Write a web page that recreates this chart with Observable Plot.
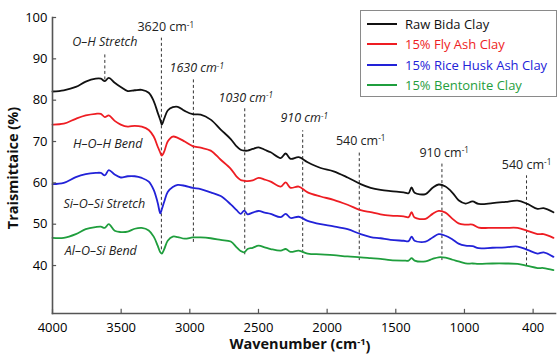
<!DOCTYPE html>
<html><head><meta charset="utf-8">
<script src="https://cdn.jsdelivr.net/npm/d3@7"></script>
<script src="https://cdn.jsdelivr.net/npm/@observablehq/plot@0.6"></script>
<style>
body{margin:0;background:#fff;}
#wrap{position:relative;width:558px;height:356px;font-family:"Open Sans",sans-serif;}
#legend{position:absolute;left:360px;top:10px;width:197px;height:87px;border:1px solid #8a8a8a;box-sizing:border-box;background:#fff;}
.item{position:absolute;left:6px;height:20px;display:flex;align-items:center;font-size:13px;white-space:nowrap;}
.item .sw{width:30px;height:2px;margin-right:8px;}
</style></head><body><div id="wrap"><div id="legend"></div></div>
<script>
const wavenumbers = [4000,3918,3830,3758,3685,3648,3619,3590,3547,3503,3452,3401,3350,3299,3263,3234,3215,3204,3186,3161,3124,3088,3037,2979,2921,2848,2775,2702,2659,2630,2604,2579,2542,2499,2455,2411,2338,2302,2266,2207,2142,2047,1953,1851,1756,1683,1611,1538,1443,1407,1385,1363,1283,1232,1188,1138,1087,1043,992,941,897,796,701,613,541,468,424,352];
const rawBida = [82.1,82.4,83.2,84.5,85.2,85.2,84.6,85.4,84.2,83.2,82.2,82.4,82.5,81.8,79.8,77.0,75.2,74.1,75.6,77.5,78.3,78.4,77.4,76.6,76.5,75.3,72.9,70.6,68.8,68.0,67.8,67.8,68.2,68.6,68.0,67.4,66.0,67.1,65.8,66.2,65.0,63.6,62.8,61.3,59.7,58.8,58.3,58.0,57.7,57.5,58.9,57.6,57.3,58.8,59.6,59.1,57.6,55.8,55.0,55.5,54.9,55.1,55.4,55.7,54.9,53.7,53.9,52.9];
const flyAsh = [74.1,74.3,75.5,76.3,76.7,76.7,75.9,76.3,75.0,74.1,73.6,73.8,73.6,72.8,71.2,68.8,67.3,66.6,67.6,70.0,71.2,70.9,70.0,68.9,68.5,67.8,65.6,63.4,61.5,60.7,60.5,60.4,60.6,61.2,60.8,60.3,59.1,60.1,58.8,59.1,57.7,56.7,55.9,54.7,53.4,52.9,52.4,52.1,51.9,51.7,52.9,51.6,51.3,52.5,53.2,52.8,51.3,50.2,49.9,49.9,49.2,49.1,49.1,49.1,48.4,47.6,47.6,46.7];
const riceHusk = [59.7,60.0,61.4,62.1,62.4,62.4,61.8,63.1,62.0,61.3,61.6,61.6,61.2,60.3,58.3,55.2,52.6,53.6,55.5,57.8,59.0,59.5,59.3,58.8,58.5,57.7,56.8,54.8,53.4,52.5,53.3,52.4,52.8,53.2,52.8,52.5,51.7,52.5,51.5,51.8,50.8,50.0,49.5,48.8,47.6,46.9,46.6,46.2,46.0,45.9,47.0,46.0,45.8,46.8,47.6,47.2,46.3,45.3,44.8,44.7,44.2,44.3,44.4,44.6,43.8,42.9,43.2,42.1];
const bentonite = [46.7,46.7,47.6,48.8,49.3,49.4,49.1,50.0,48.4,48.1,48.2,48.9,49.1,48.5,47.0,44.8,43.2,42.9,44.0,46.0,47.0,46.9,46.5,46.8,46.8,46.6,46.2,45.8,44.4,43.5,43.2,44.0,44.3,44.8,44.4,44.0,43.6,44.0,43.3,43.6,42.9,42.7,42.5,42.2,42.0,41.8,41.6,41.3,41.2,41.2,41.8,41.2,41.0,41.6,42.0,41.9,41.4,41.0,40.5,40.5,40.4,40.5,40.5,40.4,39.9,39.4,39.4,38.9];

const seriesNames = ["Raw Bida Clay","15% Fly Ash Clay","15% Rice Husk Ash Clay","15% Bentonite Clay"];
const seriesColors = ["#111111","#ee1d23","#2222d8","#1f9e3d"];

const xDomain = [4000, 337];
const yDomain = [28.4, 100];
const xTicks = [4000,3500,3000,2500,2000,1500,1000,500];
const xTickLabels = ["4000","3500","3000","2500","2000","1500","1000","400"];
const yTicks = [40,50,60,70,80,90,100];

// dashed peak markers
const peakX = [3619,3207,2974,2600,2178,1766,1164,548];
const peakTop = [91.5,95.0,85.2,78.2,72.6,67.8,64.6,61.7];
const peakBottom = [84.9,43.8,45.6,42.6,41.7,41.2,41.2,39.8];

// annotation texts
const noteText = ["O–H Stretch","H–O–H Bend","Si–O–Si Stretch","Al–O–Si Bend","3620 cm-1","1630 cm-1","1030 cm-1","910 cm-1","540 cm-1","910 cm-1","540 cm-1"];
const noteX = [3619,3598,3623,3648,3175,2950,2593,2167,1756,1148,548];
const noteY = [94.0,69.3,54.9,43.6,97.6,87.7,80.5,75.6,70.2,67.3,64.4];
const noteItalic = [true,true,true,true,false,true,true,true,false,false,false];

const seriesArrays = [rawBida, flyAsh, riceHusk, bentonite];
const rows = [];
seriesArrays.forEach((arr, s) => arr.forEach((v, i) => rows.push({series: seriesNames[s], w: wavenumbers[i], t: v})));
const peaks = peakX.map((x, i) => ({x, y1: peakBottom[i], y2: peakTop[i]}));
const notes = noteText.map((t, i) => ({t, x: noteX[i], y: noteY[i], it: noteItalic[i]}));

const plot = Plot.plot({
  width: 558, height: 356,
  marginLeft: 52, marginRight: 3, marginTop: 17, marginBottom: 43,
  style: {fontFamily: "'Open Sans', sans-serif", background: "white"},
  x: {type: "linear", domain: xDomain},
  y: {type: "linear", domain: yDomain},
  color: {domain: seriesNames, range: seriesColors},
  marks: [
    Plot.ruleX(peaks, {x: "x", y1: "y1", y2: "y2", stroke: "#333", strokeWidth: 1, strokeDasharray: "3,2.5"}),
    Plot.line(rows, {x: "w", y: "t", z: "series", stroke: "series", strokeWidth: 1.8, curve: "catmull-rom"}),
    Plot.text(notes.filter(d => d.it), {x: "x", y: "y", text: "t", fontStyle: "italic", fontSize: 12.5, fill: "#222"}),
    Plot.text(notes.filter(d => !d.it), {x: "x", y: "y", text: "t", fontSize: 12.5, fill: "#222"}),
    Plot.axisX({ticks: xTicks, tickFormat: (d) => xTickLabels[xTicks.indexOf(d)], tickSize: 0, tickPadding: 9, fontSize: 13, label: null}),
    Plot.axisY({ticks: yTicks, tickSize: 0, tickPadding: 5, fontSize: 13, label: null}),
    // inward tick marks
    Plot.ruleX(xTicks, {x: d => d, y1: yDomain[0], y2: yDomain[0] + 1, stroke: "#555", strokeWidth: 1.2}),
    Plot.ruleY(yTicks, {y: d => d, x1: xDomain[0], x2: xDomain[0] - 30, stroke: "#555", strokeWidth: 1.2}),
    Plot.frame({anchor: "bottom", stroke: "#555", strokeWidth: 1.6}),
    Plot.frame({anchor: "left", stroke: "#555", strokeWidth: 1.6})
  ]
});
document.getElementById("wrap").appendChild(plot);

const svg = d3.select(plot);
// superscripts
svg.selectAll("text").each(function() {
  const el = d3.select(this);
  const txt = this.textContent;
  if (this.children.length === 0 && /cm-1/.test(txt)) {
    const [a] = txt.split("cm-1");
    el.text(null);
    el.append("tspan").text(a + "cm");
    el.append("tspan").attr("dy", "-0.45em").attr("font-size", "0.65em").text("-1");
  }
});

// axis titles
const g = svg.append("g").attr("font-weight", "bold").attr("font-size", 14.5).attr("fill", "#111");
const xt = g.append("text").attr("x", 300).attr("y", 349).attr("text-anchor", "middle");
xt.append("tspan").text("Wavenumber (cm");
xt.append("tspan").attr("dy", "-0.45em").attr("font-size", "0.65em").text("-1");
xt.append("tspan").attr("dy", "0.45em").text(")");
g.append("text").attr("transform", "translate(18,168) rotate(-90)").attr("text-anchor", "middle").text("Traismittaice (%)");

// legend
const legend = document.getElementById("legend");
seriesNames.forEach((n, i) => {
  const it = document.createElement("div");
  it.className = "item";
  it.style.top = (3 + i * 20.3) + "px";
  it.style.color = seriesColors[i];
  it.innerHTML = `<span class="sw" style="background:${seriesColors[i]}"></span>`;
  it.appendChild(document.createTextNode(n));
  legend.appendChild(it);
});
</script></body></html>
